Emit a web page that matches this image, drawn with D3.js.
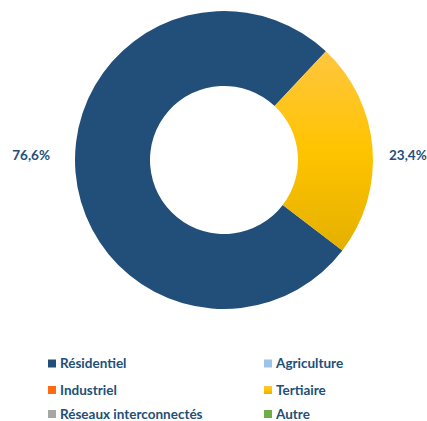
<!DOCTYPE html>
<html><head><meta charset="utf-8">
<script src="https://cdn.jsdelivr.net/npm/d3@7"></script>
<style>body{margin:0;background:#fff}svg{display:block}</style>
</head><body>
<svg id="c" width="427" height="421"></svg>
<script>
const categories = ["Résidentiel","Agriculture","Industriel","Tertiaire","Réseaux interconnectés","Autre"];
const values = [76.6, 0, 0, 23.4, 0, 0];
const valueLabels = ["76,6%", "", "", "23,4%", "", ""];
const colors = ["#224F79","#9DC3E6","#FF6A13","url(#gTert)","#A6A6A6","#70AD47"];
const legendOrder = [0,1,2,3,4,5];

const svg = d3.select("#c");
const defs = svg.append("defs");
const g1 = defs.append("linearGradient").attr("id","gTert").attr("x1",0).attr("y1",0).attr("x2",0).attr("y2",1);
g1.append("stop").attr("offset","0%").attr("stop-color","#FFC640");
g1.append("stop").attr("offset","50%").attr("stop-color","#FFC400");
g1.append("stop").attr("offset","100%").attr("stop-color","#E4B000");

const font = "Lato, 'Open Sans', sans-serif";
const cx = 224, cy = 160, rOuter = 149, rInner = 74;
const start = 127.4 * Math.PI / 180;
const pie = d3.pie().sort(null).value(d => d).startAngle(start).endAngle(start + 2*Math.PI);
const arcs = pie(values);
const arc = d3.arc().innerRadius(rInner).outerRadius(rOuter);
const gp = svg.append("g").attr("transform", `translate(${cx},${cy})`);
gp.selectAll("path").data(arcs.filter(a => a.value > 0)).join("path")
  .attr("d", arc).attr("fill", d => colors[d.index]);

// labels
gp.selectAll("text").data(arcs.filter(a => a.value > 0)).join("text")
  .attr("x", d => { const m = (d.startAngle + d.endAngle)/2; return Math.sin(m) > 0 ? rOuter + 16 : -(rOuter + 25); })
  .attr("y", -5)
  .attr("dy", "0.35em")
  .attr("text-anchor", d => { const m = (d.startAngle + d.endAngle)/2; return Math.sin(m) > 0 ? "start" : "end"; })
  .attr("font-family", font).attr("font-weight", "bold").attr("font-size", 13.5)
  .attr("fill", "#224F79")
  .text(d => valueLabels[d.index]);

// legend
const colX = [48, 264], rowY = [363.5, 390, 414];
const lg = svg.append("g");
legendOrder.forEach((ci, i) => {
  const x = colX[i % 2], y = rowY[Math.floor(i / 2)];
  lg.append("rect").attr("x", x).attr("y", y - 4).attr("width", 8).attr("height", 8).attr("fill", colors[ci]);
  lg.append("text").attr("x", x + 12).attr("y", y).attr("dy", "0.35em")
    .attr("font-family", font).attr("font-weight", "bold").attr("font-size", 13.5)
    .attr("fill", "#224F79").text(categories[ci]);
});
</script>
</body></html>
